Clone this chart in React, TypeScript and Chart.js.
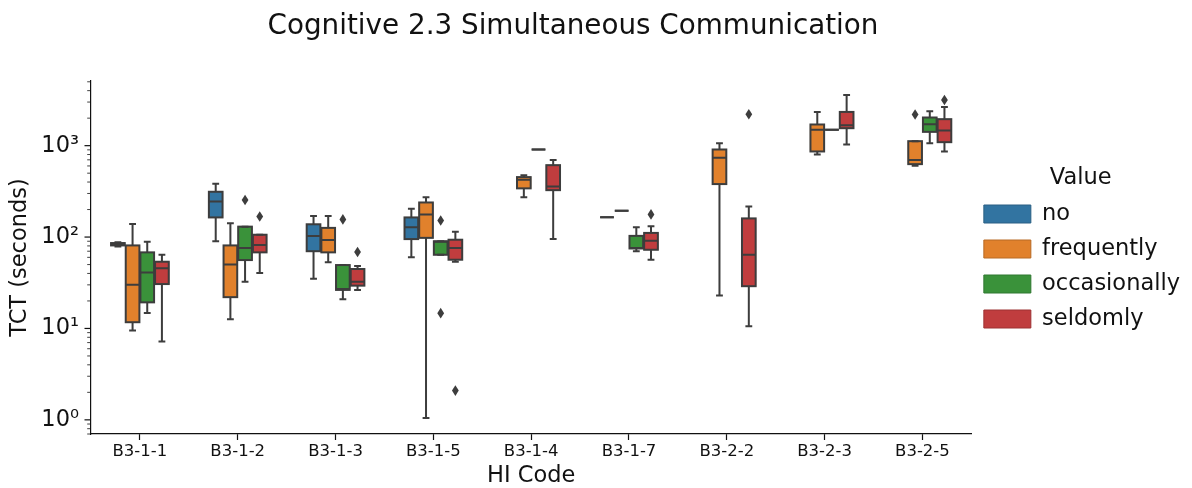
import React, { useEffect, useRef } from 'react';
import { Chart, registerables } from 'chart.js';

Chart.register(...registerables);

const FONT = "'DejaVu Sans', 'Liberation Sans', sans-serif";
const INK = '#111111';
const LINE = '#3d3d3d';

const chartTitle = 'Cognitive 2.3 Simultaneous Communication';
const xTitle = 'HI Code';
const yTitle = 'TCT (seconds)';
const legendTitle = 'Value';

const categories = ['B3-1-1', 'B3-1-2', 'B3-1-3', 'B3-1-5', 'B3-1-4', 'B3-1-7', 'B3-2-2', 'B3-2-3', 'B3-2-5'];
const hueNames = ['no', 'frequently', 'occasionally', 'seldomly'];
const hueColors = ['#3274a1', '#e1812c', '#3a923a', '#c03d3e'];
const hueEdges = ['#2a5f84', '#b86a24', '#2f7830', '#9d3233'];

// Five-number summaries per HI code: [lower whisker, Q1, median, Q3, upper whisker]
const noStats = [
  [79, 81, 83, 86, 88],
  [90, 164, 245, 313, 383],
  [35, 70, 103, 138, 170],
  [60, 95, 128, 164, 204],
  null,
  [165, 165, 165, 165, 165],
  null,
  null,
  null,
];
const frequentlyStats = [
  [9.5, 11.7, 30, 81, 139],
  [12.6, 22, 50, 81, 142],
  [53, 68, 93, 126, 170],
  [1.05, 98, 177, 239, 272],
  [272, 341, 423, 453, 476],
  [194, 194, 194, 194, 194],
  [23, 380, 736, 908, 1065],
  [801, 864, 1490, 1705, 2340],
  [602, 628, 699, 1120, 1120],
];
const occasionallyStats = [
  [14.8, 19.3, 41, 68, 89],
  [32.5, 56, 76, 130, 130],
  [20.9, 26.4, 27, 49.4, 49.4],
  [64, 64, 89, 90, 90],
  [908, 908, 908, 908, 908],
  [70, 75, 76, 103, 128],
  null,
  [1490, 1490, 1490, 1490, 1490],
  [1065, 1416, 1718, 2033, 2383],
];
const seldomlyStats = [
  [7.2, 30.6, 45.5, 53.7, 64],
  [40.5, 68, 82, 106, 106],
  [26.4, 29.4, 32.5, 44.7, 48.2],
  [53.7, 56.5, 76, 93.5, 114],
  [95, 326, 358, 612, 699],
  [56.5, 72.6, 91, 111, 131],
  [10.6, 29, 64, 160, 216],
  [1031, 1553, 1675, 2340, 3590],
  [864, 1092, 1466, 1950, 2655],
];

// Points beyond the whiskers
const noOutliers = [[], [], [], [], [], [], [], [], []];
const frequentlyOutliers = [[], [], [], [], [], [], [], [], [2193]];
const occasionallyOutliers = [[], [254], [156], [152, 14.7], [], [], [], [], []];
const seldomlyOutliers = [[], [168], [68.6], [2.09], [], [177], [2208], [], [3165]];

const majorTicks = [1, 10, 100, 1000];
const majorTickLabels = ['10⁰', '10¹', '10²', '10³'];
const yMin = 0.72;
const yMax = 5100;

const allStats = [noStats, frequentlyStats, occasionallyStats, seldomlyStats];
const allOutliers = [noOutliers, frequentlyOutliers, occasionallyOutliers, seldomlyOutliers];

// Box outlines, whiskers, caps, medians and outliers drawn over the floating-bar boxes
const boxDetails = {
  id: 'boxDetails',
  afterDatasetsDraw(chart: any) {
    const ctx = chart.ctx;
    const yScale = chart.scales.y;
    chart.data.datasets.forEach((_ds: any, i: number) => {
      const meta = chart.getDatasetMeta(i);
      const stats = allStats[i];
      const outs = allOutliers[i];
      meta.data.forEach((bar: any, j: number) => {
        const s = stats[j];
        if (!s) return;
        const { x, width } = bar.getProps(['x', 'width'], true);
        const [mn, q1, med, q3, mx] = s.map((v: number) => yScale.getPixelForValue(v));
        const w = width - 1;
        const cap = w / 4;
        ctx.save();
        ctx.strokeStyle = LINE;
        ctx.lineWidth = 2;
        ctx.strokeRect(x - w / 2, q3, w, q1 - q3);
        ctx.beginPath();
        ctx.moveTo(x, q3);
        ctx.lineTo(x, mx);
        ctx.moveTo(x, q1);
        ctx.lineTo(x, mn);
        ctx.moveTo(x - cap, mx);
        ctx.lineTo(x + cap, mx);
        ctx.moveTo(x - cap, mn);
        ctx.lineTo(x + cap, mn);
        ctx.moveTo(x - w / 2, med);
        ctx.lineTo(x + w / 2, med);
        ctx.stroke();
        ctx.fillStyle = LINE;
        outs[j].forEach((v: number) => {
          const py = yScale.getPixelForValue(v);
          ctx.beginPath();
          ctx.moveTo(x, py - 5.3);
          ctx.lineTo(x + 3.4, py);
          ctx.lineTo(x, py + 5.3);
          ctx.lineTo(x - 3.4, py);
          ctx.closePath();
          ctx.fill();
        });
        ctx.restore();
      });
    });
  },
};

// Log-axis tick marks (long for decades, short for minor steps) and the figure title
const axisDecor = {
  id: 'axisDecor',
  afterDraw(chart: any) {
    const ctx = chart.ctx;
    const yScale = chart.scales.y;
    const left = chart.chartArea.left;
    ctx.save();
    ctx.strokeStyle = INK;
    yScale.ticks.forEach((t: any) => {
      const major = majorTicks.includes(t.value);
      const py = yScale.getPixelForValue(t.value);
      ctx.lineWidth = major ? 1.2 : 0.8;
      ctx.beginPath();
      ctx.moveTo(left - (major ? 6.5 : 3.8), py);
      ctx.lineTo(left, py);
      ctx.stroke();
    });
    ctx.fillStyle = INK;
    ctx.font = `27.8px ${FONT}`;
    ctx.textAlign = 'center';
    ctx.textBaseline = 'alphabetic';
    ctx.fillText(chartTitle, chart.width * 0.4807, 33.5);
    ctx.restore();
  },
};

export default function App() {
  const canvasRef = useRef<HTMLCanvasElement | null>(null);

  useEffect(() => {
    if (!canvasRef.current) return;
    const datasets = hueNames.map((name, i) => ({
      label: name,
      data: allStats[i].map((s) => (s ? [s[1], s[3]] : null)),
      backgroundColor: hueColors[i],
      borderWidth: 0,
      categoryPercentage: 0.6,
      barPercentage: 1.0,
    }));

    const chart = new Chart(canvasRef.current, {
      type: 'bar',
      data: { labels: categories, datasets: datasets as any },
      plugins: [boxDetails, axisDecor],
      options: {
        animation: false,
        responsive: true,
        maintainAspectRatio: false,
        layout: { padding: { top: 81, right: 2, bottom: 0, left: 0 } },
        plugins: {
          title: { display: false },
          tooltip: { enabled: false },
          legend: {
            position: 'right',
            align: 'start',
            title: {
              display: true,
              text: legendTitle,
              color: INK,
              font: { family: FONT, size: 22.5, lineHeight: 1 },
              padding: { top: 85.75, bottom: 1 },
            },
            labels: {
              boxWidth: 47,
              boxHeight: 18,
              padding: 12.5,
              color: INK,
              font: { family: FONT, size: 22.5 },
              generateLabels: (c: any) =>
                c.data.datasets.map((ds: any, i: number) => ({
                  text: ds.label,
                  fillStyle: hueColors[i],
                  strokeStyle: hueEdges[i],
                  lineWidth: 1,
                  hidden: false,
                  datasetIndex: i,
                  fontColor: INK,
                })),
            },
          },
        },
        scales: {
          x: {
            type: 'category',
            offset: true,
            grid: {
              display: true,
              drawOnChartArea: false,
              drawTicks: true,
              tickLength: 6,
              offset: false,
              tickColor: INK,
              tickWidth: 1.2,
            },
            border: { display: true, color: INK, width: 1.2 },
            ticks: {
              font: { family: FONT, size: 16.5 },
              color: INK,
              padding: 2,
              autoSkip: false,
              maxRotation: 0,
            },
            title: {
              display: true,
              text: xTitle,
              color: INK,
              font: { family: FONT, size: 22.5, lineHeight: 1 },
              padding: { top: 0, bottom: 1 },
            },
            afterFit: (s: any) => {
              s.height = 54;
            },
          },
          y: {
            type: 'logarithmic',
            min: yMin,
            max: yMax,
            grid: { display: true, drawOnChartArea: false, drawTicks: false },
            border: { display: true, color: INK, width: 1.2 },
            afterBuildTicks: (scale: any) => {
              const vals: { value: number }[] = [];
              for (let e = -1; e <= 3; e++) {
                for (let m = 1; m <= 9; m++) {
                  const v = m * Math.pow(10, e);
                  if (v >= scale.min && v <= scale.max) vals.push({ value: v });
                }
              }
              scale.ticks = vals;
            },
            ticks: {
              autoSkip: false,
              padding: 12,
              color: INK,
              font: { family: FONT, size: 22.5 },
              callback: (value: any) => {
                const k = majorTicks.indexOf(Number(value));
                return k >= 0 ? majorTickLabels[k] : '';
              },
            },
            title: {
              display: true,
              text: yTitle,
              color: INK,
              font: { family: FONT, size: 22.5, lineHeight: 1.2 },
              padding: { top: 7, bottom: 0 },
            },
            afterFit: (s: any) => {
              s.width = 91;
            },
          },
        },
      } as any,
    });
    return () => chart.destroy();
  }, []);

  return (
    <div style={{ position: 'fixed', left: 0, top: 0, width: 1192, height: 488, background: '#fff' }}>
      <canvas ref={canvasRef} />
    </div>
  );
}
